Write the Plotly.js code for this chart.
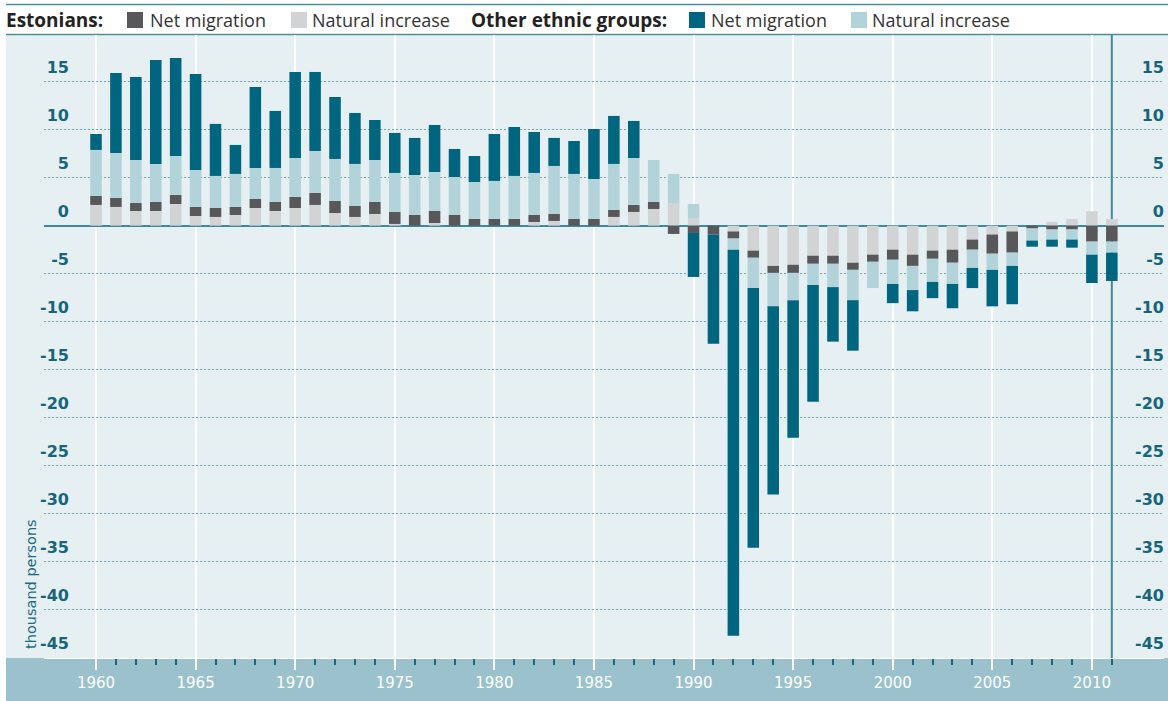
<!DOCTYPE html>
<html>
<head>
<meta charset="utf-8">
<script src="https://cdn.plot.ly/plotly-3.0.1.min.js"></script>
<style>html,body{margin:0;padding:0;background:#fff;}#chart{width:1168px;height:701px;}</style>
</head>
<body>
<div id="chart"></div>
<script>
// ---- data (thousand persons) ----
const years = [1960,1961,1962,1963,1964,1965,1966,1967,1968,1969,1970,1971,1972,1973,1974,1975,1976,1977,1978,1979,1980,1981,1982,1983,1984,1985,1986,1987,1988,1989,1990,1991,1992,1993,1994,1995,1996,1997,1998,1999,2000,2001,2002,2003,2004,2005,2006,2007,2008,2009,2010,2011];
const estNatural = [2.16,1.95,1.53,1.53,2.26,1.01,0.91,1.11,1.84,1.53,1.84,2.16,1.32,0.91,1.22,0.18,0,0.28,0,0,0,0,0.38,0.49,0,0,0.91,1.43,1.74,2.36,0.8,0,-0.6,-2.6,-4.19,-4.07,-3.13,-3.13,-3.86,-3.02,-2.5,-3.02,-2.6,-2.5,-1.45,-0.92,-0.6,0,0.4,0.7,1.5,0.7];
const estMigration = [0.93,0.94,0.83,0.94,0.94,0.94,0.93,0.84,0.94,0.94,1.15,1.25,1.25,1.14,1.25,1.25,1.11,1.25,1.11,0.7,0.7,0.7,0.73,0.73,0.7,0.7,0.73,0.73,0.73,-0.86,-0.76,-0.92,-0.74,-0.74,-0.73,-0.85,-0.84,-0.84,-0.74,-0.74,-1.05,-1.17,-0.85,-1.36,-1.05,-2.0,-2.21,-0.29,-0.4,-0.4,-1.66,-1.66];
const otherNatural = [4.8,4.68,4.48,3.96,4.06,3.85,3.34,3.44,3.23,3.54,4.06,4.37,4.38,4.38,4.37,4.06,4.17,4.06,3.96,3.85,3.96,4.48,4.38,5.0,4.69,4.16,4.79,4.89,4.37,3.03,1.46,0,-1.16,-3.16,-3.48,-2.84,-2.21,-2.43,-3.16,-2.74,-2.52,-2.52,-2.41,-2.21,-1.9,-1.68,-1.38,-1.26,-1.05,-1.05,-1.36,-1.15];
const otherMigration = [1.66,8.33,8.65,10.83,10.21,10.0,5.42,3.02,8.44,5.94,8.96,8.23,6.45,5.31,4.17,4.17,3.86,4.9,2.92,2.71,4.89,5.1,4.27,2.92,3.43,5.21,5.0,3.86,0,0,-4.58,-11.37,-40.2,-27.04,-19.6,-14.32,-12.15,-5.68,-5.26,0,-2.0,-2.21,-1.69,-2.53,-2.1,-3.8,-3.99,-0.64,-0.74,-0.84,-2.95,-2.95];

const yTickVals = [-45,-40,-35,-30,-25,-20,-15,-10,-5,0,5,10,15];
const yTickText = ["-45","-40","-35","-30","-25","-20","-15","-10","-5","0","5","10","15"];
const xTickVals = [1960,1965,1970,1975,1980,1985,1990,1995,2000,2005,2010];
const xTickText = ["1960","1965","1970","1975","1980","1985","1990","1995","2000","2005","2010"];

const seriesNames = ["Net migration","Natural increase"];
const groupNames = ["Estonians:","Other ethnic groups:"];
const yTitle = "thousand persons";

// ---- styling ----
const C = {
  estNat:'#d2d3d5', estMig:'#58585a', othNat:'#b3d3da', othMig:'#00657f',
  bg:'#e6eff2', band:'#9bc2cc', axis:'#3e8a9c', grid:'#72a7b5', tick:'#15667d'
};
const W=1168,H=701,L=44,R=4,T=35,B=43;
const PW=W-L-R, PH=H-T-B;
const px=x=>(x-L)/PW, py=y=>(H-B-y)/PH;
const numFont="DejaVu Sans";
const legFont="Open Sans";

const barW=0.58;
function bar(y,color,name){return {type:'bar',x:years,y:y,name:name,width:barW,marker:{color:color,line:{width:0}},hoverinfo:'x+y+name'};}
const traces=[
  bar(estNatural,C.estNat,'Estonians: '+seriesNames[1]),
  bar(estMigration,C.estMig,'Estonians: '+seriesNames[0]),
  bar(otherNatural,C.othNat,'Other: '+seriesNames[1]),
  bar(otherMigration,C.othMig,'Other: '+seriesNames[0]),
  // invisible helper so the right-hand value axis is drawn
  {type:'scatter',mode:'markers',x:years,y:otherMigration,yaxis:'y2',marker:{opacity:0,size:1},hoverinfo:'skip',showlegend:false}
];

const yRange=[-45.03,19.86];
const shapes=[
  {type:'rect',xref:'paper',yref:'paper',x0:px(6),x1:px(1168),y0:py(658),y1:py(35),fillcolor:C.bg,line:{width:0},layer:'below'},
  {type:'rect',xref:'paper',yref:'paper',x0:px(6),x1:px(1168),y0:py(701),y1:py(658),fillcolor:C.band,line:{width:0},layer:'below'},
  {type:'line',xref:'paper',yref:'paper',x0:px(6),x1:px(1168),y0:py(4.5),y1:py(4.5),line:{color:'#4a8fa1',width:1.5},layer:'below'},
  {type:'line',xref:'paper',yref:'paper',x0:px(6),x1:px(1168),y0:py(34.5),y1:py(34.5),line:{color:'#4a8fa1',width:1.5},layer:'below'},
  {type:'line',xref:'x',yref:'paper',x0:years[0],x1:years[0],y0:0,y1:1,line:{color:C.axis,width:2},layer:'between'},
  {type:'line',xref:'x',yref:'paper',x0:years[years.length-1],x1:years[years.length-1],y0:0,y1:1,line:{color:C.axis,width:2},layer:'between'}
];
// legend swatches
const sw=[[127,C.estMig],[291,C.estNat],[689,C.othMig],[851,C.othNat]];
sw.forEach(s=>shapes.push({type:'rect',xref:'paper',yref:'paper',x0:px(s[0]),x1:px(s[0]+16),y0:py(28),y1:py(12),fillcolor:s[1],line:{width:0}}));

function ann(text,x,bold){return {xref:'paper',yref:'paper',x:px(x),y:py(20),xanchor:'left',yanchor:'middle',showarrow:false,text:bold?'<b>'+text+'</b>':text,font:{family:legFont,size:bold?19:18,color:bold?'#222':'#333'}};}
const annotations=[
  ann(groupNames[0],4,true), ann(seriesNames[0],148,false), ann(seriesNames[1],310,false),
  ann(groupNames[1],469,true), ann(seriesNames[0],709,false), ann(seriesNames[1],870,false),
  {xref:'paper',yref:'paper',x:px(31),y:py(584),textangle:-90,showarrow:false,xanchor:'center',yanchor:'middle',text:yTitle,font:{family:numFont,size:14.5,color:'#1d6b82'}}
];

const yBase={range:yRange,tickmode:'array',tickvals:yTickVals,ticktext:yTickText,ticks:'',showline:false,
  tickfont:{family:numFont,size:16,color:C.tick,weight:'bold'},ticklabelshift:-14,fixedrange:true};

const layout={
  width:W,height:H,margin:{l:L,r:R,t:T,b:B,pad:0},
  paper_bgcolor:'#ffffff',plot_bgcolor:C.bg,
  barmode:'relative',showlegend:false,
  xaxis:{range:[1957.389,2013.62],tickmode:'array',tickvals:xTickVals,ticktext:xTickText,
    showgrid:true,gridcolor:'#ffffff',gridwidth:2,zeroline:false,
    ticks:'outside',ticklen:11,tickwidth:2,tickcolor:'#ffffff',
    minor:{tickmode:'array',tickvals:years,ticks:'outside',ticklen:6,tickwidth:2,tickcolor:'#17687f',showgrid:false},
    showline:true,linecolor:'#ffffff',linewidth:1,
    tickfont:{family:numFont,size:15,color:'#ffffff'},fixedrange:true},
  yaxis:Object.assign({},yBase,{anchor:'free',position:px(69),side:'left',
    showgrid:true,gridcolor:C.grid,gridwidth:1.5,griddash:'2px,2px',
    zeroline:true,zerolinecolor:C.axis,zerolinewidth:2}),
  yaxis2:Object.assign({},yBase,{overlaying:'y',anchor:'free',position:px(1164),side:'left',
    showgrid:false,zeroline:false}),
  shapes:shapes,annotations:annotations
};
Plotly.newPlot('chart',traces,layout,{displayModeBar:false,staticPlot:true});
</script>
</body>
</html>
